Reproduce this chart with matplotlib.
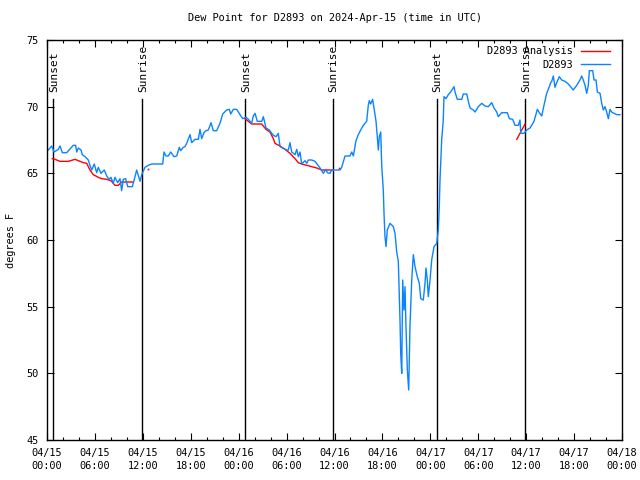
import numpy as np
from matplotlib import pyplot as plt
from matplotlib.ticker import MultipleLocator, FixedLocator

plt.rcParams['font.family'] = 'DejaVu Sans Mono'

# hours since 04/15 00:00 UTC, dew point in degrees F
obs_hours = [0.16, 0.59, 0.88, 1.42, 1.63, 1.92, 2.47, 3.29, 3.59, 3.72, 3.92, 4.26, 4.42, 4.76, 5.17, 5.38,
             5.60, 5.92, 6.22, 6.42, 6.76, 7.17, 7.48, 7.76, 8.01, 8.30, 8.51, 8.85, 9.14, 9.35, 9.55, 9.85,
             10.11, 10.68, 11.02, 11.23, 11.65, 11.86, 12.27, 12.68, 13.11, 14.49, 14.65, 14.90, 15.19, 15.49,
             15.90, 16.24, 16.57, 16.74, 17.07, 17.28, 17.49, 17.91, 18.12, 18.53, 18.95, 19.16, 19.37, 19.66,
             19.91, 20.20, 20.54, 20.82, 21.25, 21.66, 22.00, 22.50, 22.83, 23.00, 23.33, 23.75, 24.17, 24.51,
             24.92, 25.21, 25.63, 25.83, 26.05, 26.33, 26.89, 27.09, 27.42, 27.84, 28.14, 28.34, 28.68, 28.96,
             29.18, 29.52, 30.02, 30.22, 30.43, 30.64, 31.06, 31.27, 31.47, 31.68, 31.89, 32.31, 32.52, 32.72,
             33.15, 33.56, 34.19, 34.60, 34.94, 35.10, 35.44, 35.65, 36.06, 36.69, 36.90, 37.32, 37.94, 38.16,
             38.36, 38.69, 38.98, 39.28, 39.61, 40.03, 40.23, 40.36, 40.53, 40.78, 40.95, 41.20, 41.49, 41.61,
             41.79, 41.91, 42.11, 42.20, 42.32, 42.45, 42.61, 42.95, 43.36, 43.58, 43.79, 43.99, 44.20, 44.29,
             44.42, 44.54, 44.70, 44.83, 44.95, 45.12, 45.29, 45.45, 45.67, 45.87, 46.08, 46.37, 46.62, 46.80,
             47.12, 47.33, 47.46, 47.62, 47.75, 47.96, 48.17, 48.46, 48.80, 49.00, 49.12, 49.21, 49.42, 49.62,
             49.71, 49.96, 50.25, 50.55, 50.97, 51.09, 51.38, 51.93, 52.13, 52.56, 52.76, 52.97, 53.38, 53.59,
             54.01, 54.43, 54.85, 55.26, 55.69, 55.97, 56.31, 56.51, 56.94, 57.64, 57.89, 58.31, 58.60, 59.02,
             59.23, 59.32, 59.73, 60.07, 60.48, 60.98, 61.40, 61.65, 61.95, 62.23, 62.57, 62.90, 63.07, 63.20,
             63.40, 63.61, 63.82, 64.15, 64.45, 64.86, 65.28, 65.90, 66.33, 66.74, 66.95, 67.15, 67.37, 67.58,
             67.78, 67.91, 68.33, 68.50, 68.75, 68.91, 69.25, 69.46, 69.66, 69.87, 70.08, 70.29, 70.50, 70.71,
             71.00, 71.34, 71.75]
obs_dewpt = [66.75, 67.05, 66.6, 66.8, 67.05, 66.55, 66.55, 67.1, 67.1, 66.6, 66.9, 66.75, 66.4, 66.25, 66.0, 65.6,
             65.25, 65.7, 65.05, 65.45, 65.0, 65.25, 64.8, 64.55, 64.7, 64.25, 64.7, 64.3, 64.6, 63.7, 64.55, 64.6,
             64.0, 64.0, 64.75, 65.25, 64.4, 64.9, 65.45, 65.6, 65.7, 65.7, 66.6, 66.3, 66.3, 66.6,
             66.25, 66.3, 66.95, 66.7, 66.95, 67.0, 67.25, 67.9, 67.3, 67.55, 67.55, 68.3, 67.6, 68.05,
             68.2, 68.25, 68.8, 68.2, 68.2, 68.75, 69.45, 69.75, 69.8, 69.45, 69.8, 69.8, 69.4, 69.1,
             69.2, 69.05, 68.75, 69.3, 69.5, 68.9, 68.9, 69.25, 68.4, 68.25, 68.0, 67.85, 67.75, 68.0,
             67.0, 66.9, 66.75, 66.75, 67.3, 66.6, 66.4, 66.8, 66.25, 66.6, 65.7, 65.95, 65.75, 66.0,
             66.0, 65.9, 65.4, 65.0, 65.3, 65.05, 65.0, 65.25, 65.25, 65.25, 65.45, 66.3, 66.3, 66.6,
             66.3, 67.45, 67.9, 68.25, 68.6, 68.9, 70.1, 70.45, 70.2, 70.55, 69.9, 68.9, 66.75, 67.75,
             68.1, 65.6, 63.75, 62.0, 60.25, 59.5, 60.75, 61.25, 61.0, 60.5, 59.1, 58.4, 54.0, 51.5,
             50.0, 57.0, 54.75, 56.5, 53.5, 50.25, 48.75, 53.5, 57.0, 58.9, 58.0, 57.25, 56.75, 55.6,
             55.5, 56.75, 57.9, 57.0, 55.75, 57.0, 58.5, 59.5, 59.75, 60.75, 62.5, 64.5, 67.5, 69.0,
             70.75, 70.6, 70.9, 71.1, 71.5, 71.1, 70.55, 70.55, 70.95, 70.95, 70.4, 69.9, 69.75, 69.6,
             70.0, 70.25, 70.05, 70.0, 70.3, 69.9, 69.6, 69.25, 69.55, 69.55, 69.1, 69.05, 68.6, 68.6,
             69.0, 68.0, 68.0, 68.25, 68.4, 68.9, 69.8, 69.55, 69.3, 70.1, 71.0, 71.5, 71.8, 71.9,
             72.3, 71.45, 71.8, 72.25, 72.0, 71.9, 71.7, 71.25, 71.6, 72.0, 72.3, 72.0, 71.6, 71.0,
             71.6, 72.7, 72.7, 72.0, 72.0, 71.1, 71.0, 70.25, 69.75, 70.0, 69.6, 69.1, 69.8, 69.6,
             69.5, 69.4, 69.4]

# analysis series (three separate night-time pieces plus two lone points)
ana1_hours = [0.66, 1.00, 1.63, 2.67, 3.51, 3.92, 4.55, 4.97, 5.38, 5.80, 6.42, 6.85, 7.48, 8.01, 8.51, 8.93, 9.35, 10.81]
ana1_dewpt = [66.1, 66.05, 65.9, 65.9, 66.05, 65.95, 65.8, 65.75, 65.25, 64.9, 64.7, 64.6, 64.55, 64.45, 64.1, 64.1, 64.35, 64.35]
ana2_hours = [24.79, 25.63, 26.89, 27.42, 27.92, 28.34, 28.55, 29.18, 29.80, 30.43, 31.06, 31.47, 31.89, 32.52, 33.15, 33.78, 34.40, 35.85]
ana2_dewpt = [69.1, 68.7, 68.7, 68.3, 68.1, 67.6, 67.25, 67.05, 66.8, 66.5, 66.1, 65.8, 65.7, 65.6, 65.5, 65.4, 65.25, 65.25]
ana3_hours = [58.82, 59.86]
ana3_dewpt = [67.55, 68.7]
ana_dot_hours = [12.68, 36.56]
ana_dot_dewpt = [65.3, 65.4]

sun_hours = [0.75, 11.9, 24.8, 35.8, 48.8, 59.85]
sun_labels = ['Sunset', 'Sunrise', 'Sunset', 'Sunrise', 'Sunset', 'Sunrise']

tick_hours = list(range(0, 73, 6))
tick_labels = ['04/15\n00:00', '04/15\n06:00', '04/15\n12:00', '04/15\n18:00',
               '04/16\n00:00', '04/16\n06:00', '04/16\n12:00', '04/16\n18:00',
               '04/17\n00:00', '04/17\n06:00', '04/17\n12:00', '04/17\n18:00',
               '04/18\n00:00']

fs = 7.4
blue = '#0a84ff'

fig = plt.figure(figsize=(6.4, 4.8), dpi=100)
ax = fig.add_axes([47/640, 40/480, 575/640, 400/480])

for h in sun_hours:
    ax.axvline(h, ymin=0, ymax=0.8525, color='k', lw=1)
for h, lab in zip(sun_hours, sun_labels):
    ax.text(h + 0.1, 71.1, lab, rotation=90, ha='center', va='bottom', fontsize=8)

ax.plot(ana1_hours, ana1_dewpt, color='red', lw=1, label='D2893 Analysis')
ax.plot(ana2_hours, ana2_dewpt, color='red', lw=1)
ax.plot(ana3_hours, ana3_dewpt, color='red', lw=1)
ax.plot(ana_dot_hours, ana_dot_dewpt, 's', color='red', ms=1.2, mew=0)
ax.plot(obs_hours, obs_dewpt, color=blue, lw=1, label='D2893')

ax.set_xlim(0, 72)
ax.set_ylim(45, 75)
ax.xaxis.set_major_locator(FixedLocator(tick_hours))
ax.xaxis.set_minor_locator(MultipleLocator(2))
ax.set_xticklabels(tick_labels, fontsize=fs, linespacing=1.45)
ax.yaxis.set_major_locator(MultipleLocator(5))
ax.tick_params(axis='y', labelsize=fs, pad=5.8)
ax.tick_params(axis='x', pad=5.5)
ax.tick_params(which='major', direction='in', length=5, width=0.8, top=True, right=True)
ax.tick_params(which='minor', direction='in', length=2.5, width=0.8, top=True, right=True)
for s in ax.spines.values():
    s.set_linewidth(1)

ax.set_ylabel('degrees F', fontsize=fs, labelpad=8)
ax.set_title('Dew Point for D2893 on 2024-Apr-15 (time in UTC)', fontsize=fs, pad=14)

ax.legend(loc='upper right', bbox_to_anchor=(1 - 6/575, 1), frameon=False, markerfirst=False,
          fontsize=fs, handlelength=2.8, borderaxespad=0.2, labelspacing=0.35, handletextpad=0.8)

plt.savefig('out.png', dpi=100)
